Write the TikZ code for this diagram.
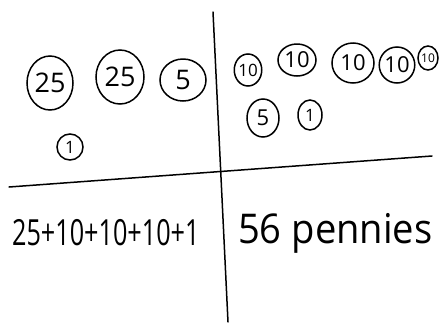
\documentclass[tikz,border=0pt]{standalone}
\usepackage{fontspec}
\setmainfont{Open Sans}
\usetikzlibrary{shapes.geometric}
\tikzset{
  pen/.style={line width=1.5pt, line cap=round},
  coin/.style={ellipse, draw, pen, inner sep=0pt},
  bigcoin/.style={coin, font=\fontsize{27}{27}\selectfont},
  midcoin/.style={coin, font=\fontsize{22}{22}\selectfont},
  smallcoin/.style={coin, font=\fontsize{17}{17}\selectfont},
  tinycoin/.style={coin, font=\fontsize{12}{12}\selectfont},
  work/.style={inner sep=0pt, transform shape}
}

\begin{document}
\begin{tikzpicture}[x=1pt, y=-1pt]
\useasboundingbox[fill=white] (0,0) rectangle (442,322);

% the four boxes
\coordinate (vtop) at (213,12);
\coordinate (vbot) at (228,322);
\coordinate (hleft) at (9,187);
\coordinate (hright) at (432,156);
\draw[pen] (vtop) -- (vbot);
\draw[pen] (hleft) -- (hright);

% first way: quarters, nickel, penny
\node[bigcoin, minimum width=46, minimum height=54] (q1) at (50,83) {25};
\node[bigcoin, minimum width=48, minimum height=54] (q2) at (120,77) {25};
\node[bigcoin, minimum width=46, minimum height=42] (n1) at (183,80) {5};
\node[smallcoin, minimum width=26, minimum height=26] (p1) at (70,147) {1};

% second way: dimes, nickel, penny
\node[smallcoin, minimum width=26, minimum height=32] (d1) at (248,70) {10};
\node[midcoin, minimum width=38, minimum height=32] (d2) at (297,60) {10};
\node[midcoin, minimum width=42, minimum height=40] (d3) at (353,63) {10};
\node[midcoin, minimum width=34, minimum height=36] (d4) at (397,65) {10};
\node[tinycoin, minimum width=20, minimum height=24] (d5) at (428,58) {10};
\node[midcoin, minimum width=32, minimum height=38] (n2) at (263,118) {5};
\node[smallcoin, minimum width=24, minimum height=30] (p2) at (310,115) {1};

% bottom row
\node[work, xscale=0.7, anchor=base west, font=\fontsize{36}{36}\selectfont] (sum) at (12,245) {25+10+10+10+1};
\node[work, xscale=0.93, anchor=base west, font=\fontsize{41}{41}\selectfont] (total) at (238,243) {56 pennies};
\end{tikzpicture}
\end{document}
